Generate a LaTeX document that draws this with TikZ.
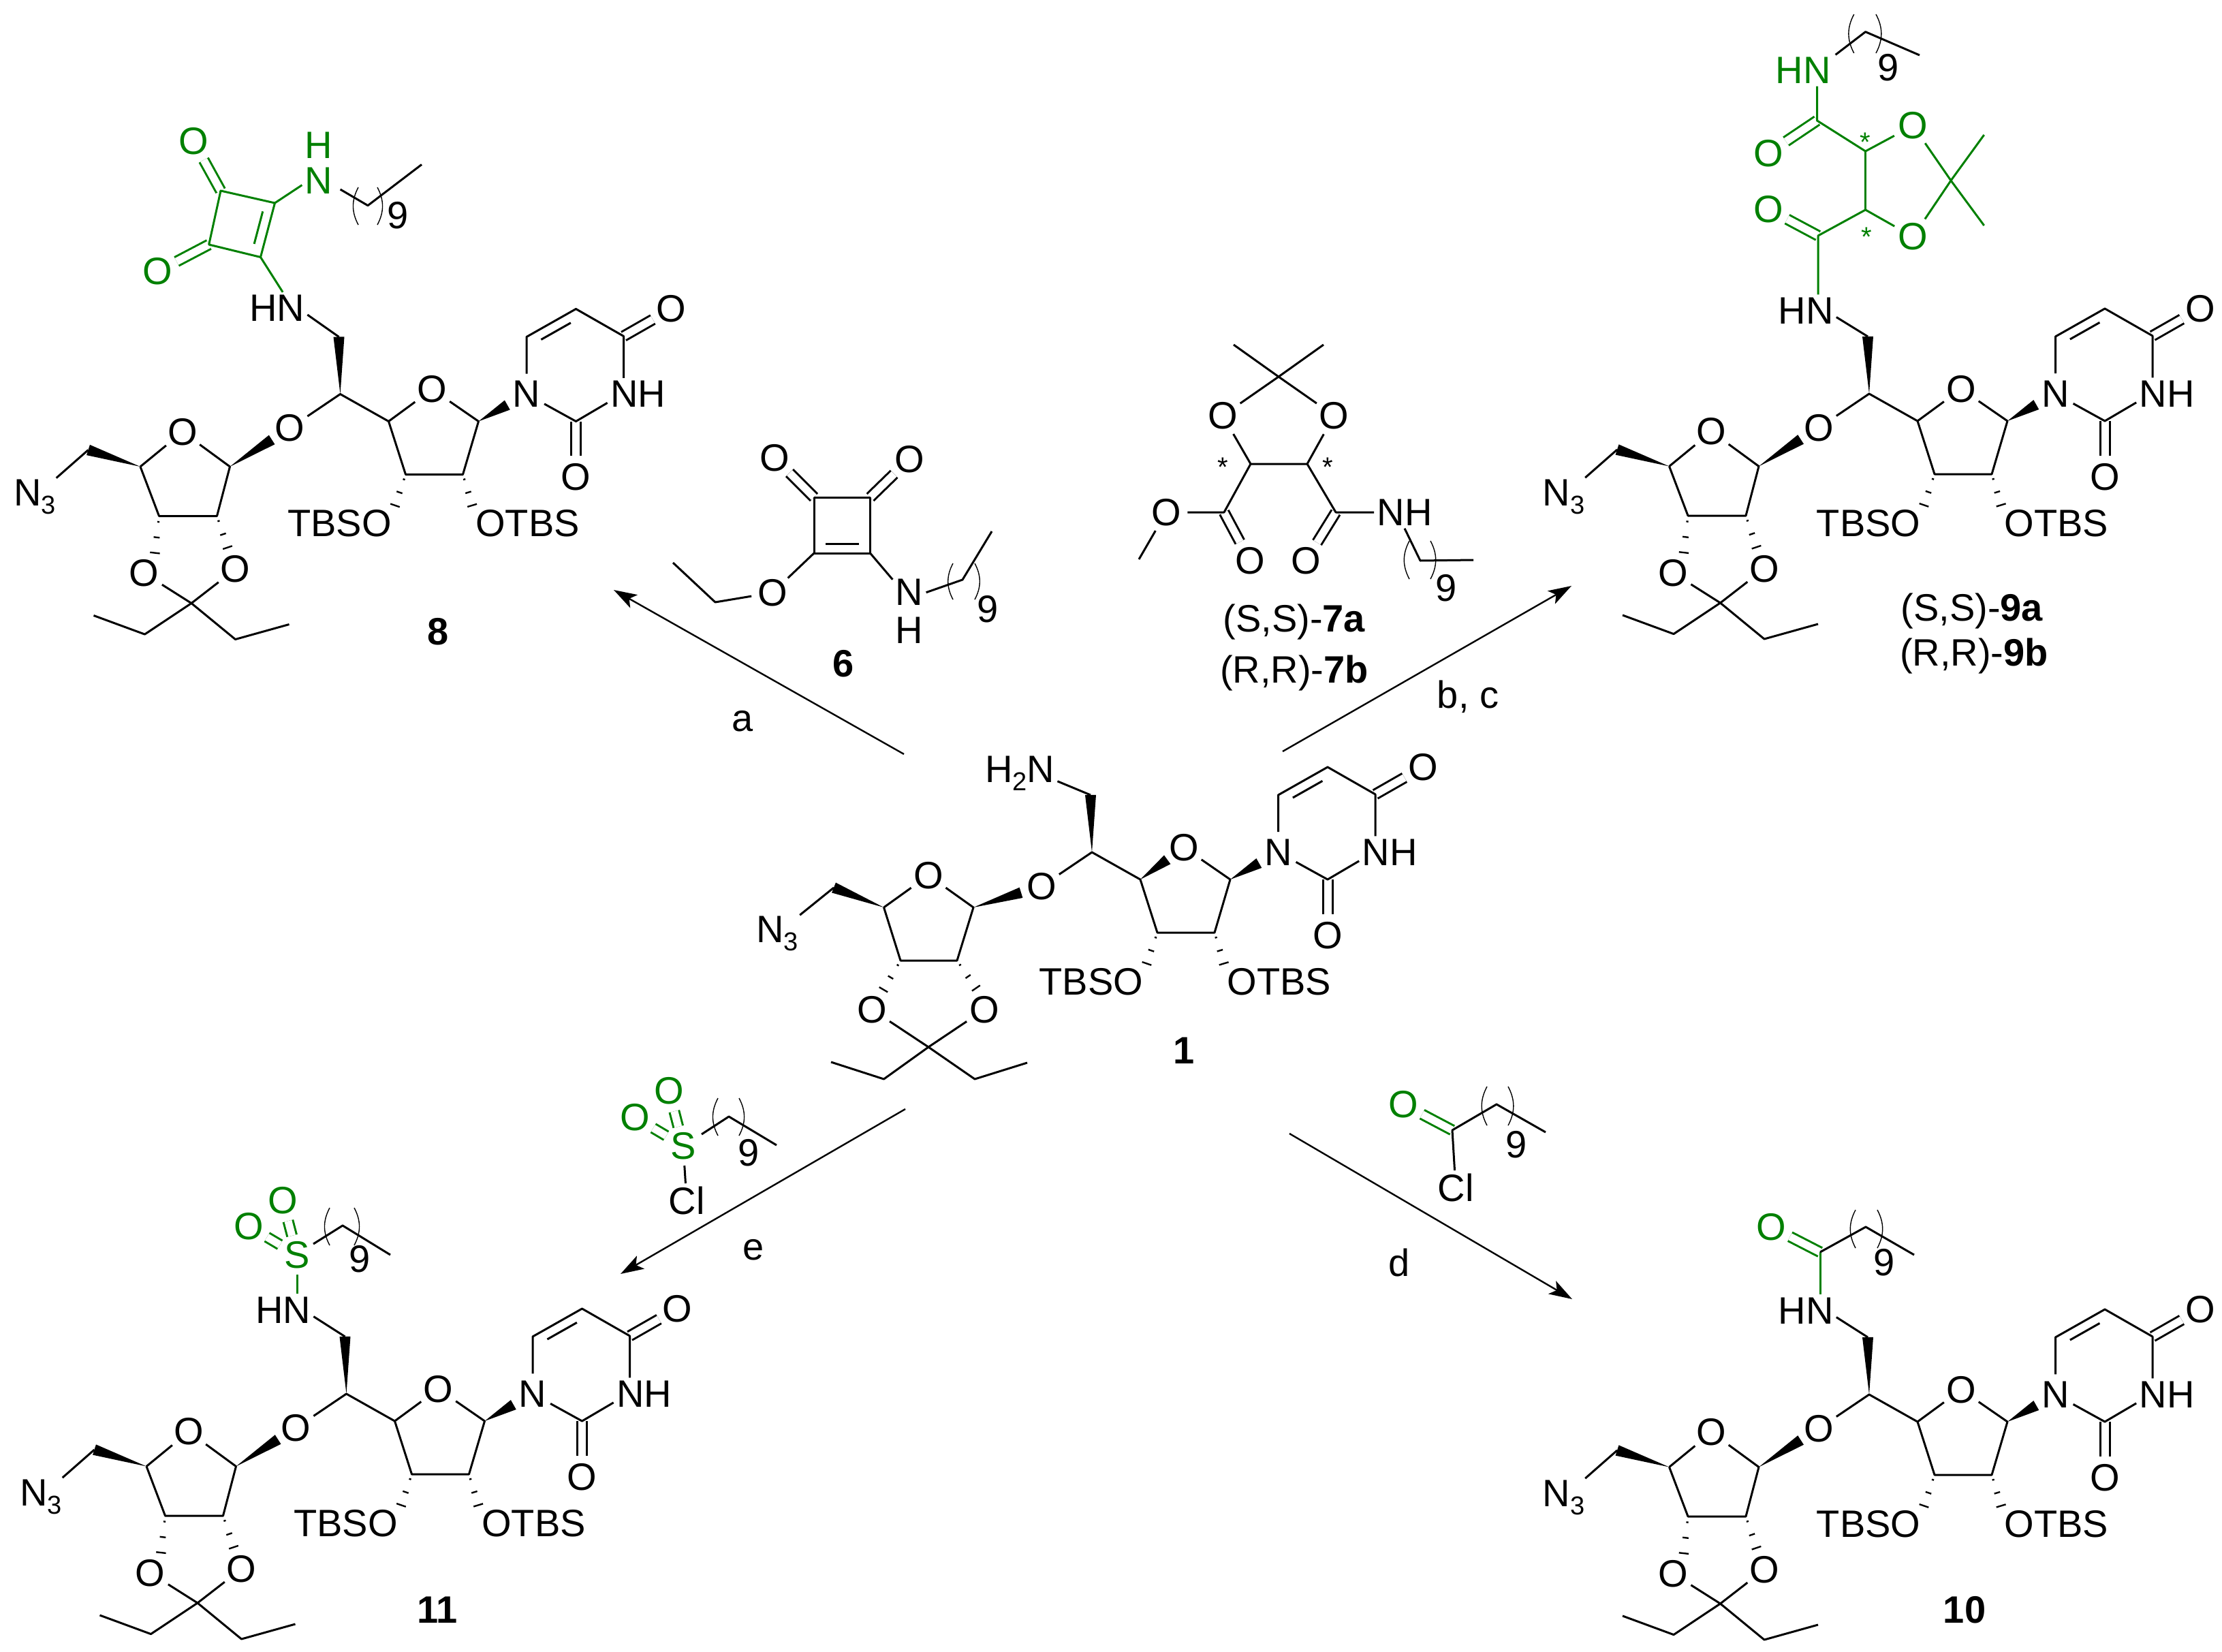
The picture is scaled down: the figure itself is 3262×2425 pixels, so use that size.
\documentclass[tikz,border=0pt]{standalone}
\usepackage{fontspec}
\setmainfont{Liberation Sans}
\usetikzlibrary{calc,arrows.meta}
\definecolor{chemgreen}{RGB}{0,128,0}

\newcommand{\lowidx}[1]{\raisebox{-6pt}{\fontsize{19}{20}\selectfont #1}}
\newcommand{\wedgebond}[3][1]{\fill (#2) -- ($(#2)!#1!(#3)!4pt!90:(#2)$) -- ($(#2)!#1!(#3)!4pt!-90:(#2)$) -- cycle;}
\newcommand{\hashbond}[2]{\foreach \hpos/\hwid in {.15/.8pt,.55/2.2pt,.95/3.6pt}{\draw[hash] ($(#1)!\hpos!(#2)!\hwid!90:(#1)$) -- ($(#1)!\hpos!(#2)!\hwid!-90:(#1)$);}}
\newcommand{\innerbond}[2]{\draw[bond] ($(#1)!.2!(#2)!7pt!-90:(#2)$) -- ($(#1)!.8!(#2)!7pt!90:(#1)$);}
\newcommand{\parenpair}[4]{\draw[paren] (#1,#3) to[bend right=28] (#1,#4); \draw[paren] (#2,#3) to[bend left=28] (#2,#4);}

% uridine half, (am) is placed by the caller
\newcommand{\rightunit}{
\coordinate (ch) at (1603,1251);
\coordinate (cha) at (1601,1167);
\node[atom] (ob) at (1529,1301) {O};
\coordinate (c4r) at (1674,1291);
\node[atom] (or) at (1738,1244) {O};
\coordinate (c1r) at (1806,1291);
\coordinate (c2r) at (1783,1369);
\coordinate (c3r) at (1699,1369);
\node[atom] (n1) at (1876.5,1251) {N};
\coordinate (c6) at (1876.5,1167);
\coordinate (c5) at (1949,1126);
\coordinate (c4u) at (2019,1166);
\node[atom] (o4) at (2089,1126) {O};
\node[atoms] (n3) at (2040,1251) {NH};
\coordinate (c2u) at (1949,1291);
\node[atom] (o2) at (1949,1373) {O};
\node[atoms] (tbso) at (1602,1441) {TBSO};
\node[atoms] (otbs) at (1878,1441) {OTBS};
\draw[dbl] (c4u) -- (o4);
\draw[dbl] (c2u) -- (o2);
\draw[bond] (am.-12) -- (cha);
\wedgebond{ch}{cha}
\draw[bond] (ob) -- (ch) -- (c4r) -- (c3r) -- (c2r) -- (c1r) -- (or);
\wedgebond[.6]{c1r}{n1}
\draw[bond] (n1) -- (c6) -- (c5) -- (c4u) -- (c4u |- n3.north);
\draw[bond] (n3.196) -- (c2u) -- (n1);
\innerbond{c6}{c5}
\hashbond{c3r}{tbso.north east}
\hashbond{c2r}{otbs.north west}
}

% sugar of 1
\newcommand{\leftwide}{
\coordinate (c4s) at (1297.5,1332);
\node[atom] (os) at (1363,1285) {O};
\coordinate (c1s) at (1429,1332);
\coordinate (c2s) at (1405,1410);
\coordinate (c3s) at (1322,1410);
\coordinate (chn) at (1224,1303);
\node[atoms,inner sep=1pt] (az) at (1141,1370) {N\lowidx{3}};
\node[atom] (oka) at (1280,1482) {O};
\node[atom] (okb) at (1445,1482) {O};
\coordinate (cq) at (1363,1537);
\coordinate (e1a) at (1297.5,1584);
\coordinate (e1b) at (1220,1559);
\coordinate (e2a) at (1431,1584);
\coordinate (e2b) at (1508,1560);
}
% sugar of 8, 9, 10, 11
\newcommand{\leftnarrow}{
\coordinate (c4s) at (1309.5,1357.5);
\node[atom] (os) at (1371.5,1306.6) {O};
\coordinate (c1s) at (1441,1357.5);
\coordinate (c2s) at (1422,1430);
\coordinate (c3s) at (1337,1430);
\coordinate (chn) at (1233,1333);
\node[atoms,inner sep=1pt] (az) at (1154.5,1402) {N\lowidx{3}};
\node[atom] (oka) at (1315,1514) {O};
\node[atom] (okb) at (1449,1508) {O};
\coordinate (cq) at (1384.5,1558);
\coordinate (e1a) at (1316,1603.6);
\coordinate (e1b) at (1241,1576);
\coordinate (e2a) at (1449,1611);
\coordinate (e2b) at (1528,1589);
}
\newcommand{\leftunit}{
\wedgebond{c4s}{chn}
\draw[bond] (chn) -- (az);
\draw[bond] (c4s) -- (os) -- (c1s) -- (c2s) -- (c3s) -- (c4s);
\wedgebond[.7]{c1s}{ob}
\hashbond{c3s}{oka.60}
\hashbond{c2s}{okb.110}
\draw[bond] (oka) -- (cq) -- (okb);
\draw[bond] (e1b) -- (e1a) -- (cq) -- (e2a) -- (e2b);
}

\begin{document}
\begin{tikzpicture}[x=.5pt,y=-.5pt,line join=round,>={Stealth[length=17pt,width=11pt,inset=4pt]}]
\tikzstyle{chemfont}=[font=\fontsize{28}{28}\selectfont]
\tikzstyle{atom}=[chemfont,circle,inner sep=.5pt]
\tikzstyle{atoms}=[chemfont,rectangle,inner sep=2pt,align=center]
\tikzstyle{bond}=[draw,line width=1.5pt]
\tikzstyle{dbl}=[draw,line width=1.5pt,double,double distance=5.5pt]
\tikzstyle{hash}=[draw,line width=1.2pt]
\tikzstyle{paren}=[draw,line width=.7pt]
\tikzstyle{rxn}=[draw,->,line width=1.2pt]
\tikzstyle{starmark}=[font=\fontsize{20}{20}\selectfont,inner sep=0pt,anchor=north]
\useasboundingbox (0,0) rectangle (3262,2425);

% 1
\begin{scope}[name prefix=m1-]
\node[atoms] (am) at (1497,1135) {H\lowidx{2}N};
\rightunit
\leftwide
\leftunit
\wedgebond[.62]{c4r}{or}
\end{scope}
\node[atoms] (lab1) at (1738,1542) {\textbf{1}};

% 8
\begin{scope}[shift={(-1103.5,-672.5)},name prefix=m8-]
\node[atoms] (am) at (1510,1125) {HN};
\rightunit
\leftnarrow
\leftunit
\draw[bond] (c4r) -- (or);
\end{scope}
\node[atoms] (lab8) at (643.5,927) {\textbf{8}};
\coordinate (q1) at (324,280);
\coordinate (q2) at (403.5,298);
\coordinate (q3) at (382.5,377.5);
\coordinate (q4) at (306.7,359);
\node[atom,chemgreen] (qo1) at (284,207.5) {O};
\node[atom,chemgreen] (qo2) at (231.6,398.4) {O};
\node[atoms,chemgreen] (qn) at (468,239) {H\\[-2pt]N};
\coordinate (k8a) at (499.6,278);
\coordinate (k8b) at (540,301.7);
\coordinate (k8c) at (619,241.5);
\draw[dbl,chemgreen] (q1) -- (qo1);
\draw[dbl,chemgreen] (q4) -- (qo2);
\begin{scope}[chemgreen]
\draw[bond] (q1) -- (q2) -- (q3) -- (q4) -- cycle;
\innerbond{q2}{q3}
\draw[bond] (q2) -- (qn.233);
\draw[bond] (q3) -- (m8-am.70);
\end{scope}
\draw[bond] (k8a) -- (k8b) -- (k8c);
\parenpair{526}{554}{275}{330}
\node[atoms] (n8) at (584,316) {9};

% 9
\begin{scope}[shift={(1141,-673)},name prefix=m9-]
\node[atoms] (am) at (1510,1129) {HN};
\rightunit
\leftnarrow
\leftunit
\draw[bond] (c4r) -- (or);
\end{scope}
\node[atoms] (lab9a) at (2895,897) {(S,S)-\textbf{9a}};
\node[atoms] (lab9b) at (2898,963) {(R,R)-\textbf{9b}};
\node[atoms,chemgreen] (tn) at (2647,103) {HN};
\coordinate (t1) at (2667.5,177);
\node[atom,chemgreen] (to1) at (2596,225) {O};
\coordinate (t2) at (2738.6,222);
\node[atom,chemgreen] (to2) at (2808.4,184.5) {O};
\coordinate (t3) at (2864,265);
\coordinate (t4) at (2912.7,198);
\coordinate (t5) at (2912.7,331);
\coordinate (t6) at (2738.6,308);
\node[atom,chemgreen] (to3) at (2808.4,347.5) {O};
\coordinate (t7) at (2669,346);
\node[atom,chemgreen] (to4) at (2596,307) {O};
\draw[dbl,chemgreen] (t1) -- (to1);
\draw[dbl,chemgreen] (t7) -- (to4);
\begin{scope}[chemgreen]
\draw[bond] (t1 |- tn.south) -- (t1) -- (t2) -- (to2) -- (t3) -- (to3) -- (t6) -- (t7) -- (t7 |- m9-am.north);
\draw[bond] (t2) -- (t6);
\draw[bond] (t4) -- (t3) -- (t5);
\node[starmark] (ts1) at (2738.6,195) {*};
\node[starmark] (ts2) at (2740.6,334) {*};
\end{scope}
\coordinate (k9a) at (2694.6,80.4);
\coordinate (k9b) at (2738.6,46.7);
\coordinate (k9c) at (2818,81);
\draw[bond] (k9a) -- (k9b) -- (k9c);
\parenpair{2721.7}{2754}{21}{78}
\node[atoms] (n9) at (2772.5,99.5) {9};

% 10
\begin{scope}[shift={(1141,796)},name prefix=m10-]
\node[atoms] (am) at (1510,1128) {HN};
\rightunit
\leftnarrow
\leftunit
\draw[bond] (c4r) -- (or);
\end{scope}
\node[atoms] (lab10) at (2884,2363) {\textbf{10}};
\node[atom,chemgreen] (ao) at (2600,1801) {O};
\coordinate (a1) at (2672,1838);
\coordinate (a2) at (2739,1801);
\coordinate (a3) at (2810,1842);
\draw[dbl,chemgreen] (a1) -- (ao);
\draw[bond,chemgreen] (a1) -- (a1 |- m10-am.north);
\draw[bond] (a1) -- (a2) -- (a3);
\parenpair{2724}{2756}{1776}{1832}
\node[atoms] (n10) at (2766,1853) {9};

% 11
\begin{scope}[shift={(-1094.5,795)},name prefix=m11-]
\node[atoms] (am) at (1510,1128) {HN};
\rightunit
\leftnarrow
\leftunit
\draw[bond] (c4r) -- (or);
\end{scope}
\node[atoms] (lab11) at (642,2363) {\textbf{11}};
\node[atom,chemgreen] (ss) at (436,1842) {S};
\node[atom,chemgreen] (so1) at (415,1762) {O};
\node[atom,chemgreen] (so2) at (365,1800) {O};
\coordinate (b1) at (460,1826);
\coordinate (b2) at (503,1799);
\coordinate (b3) at (573,1842);
\draw[dbl,chemgreen] (ss) -- (so1);
\draw[dbl,chemgreen] (ss) -- (so2);
\draw[bond,chemgreen] (ss) -- (ss |- m11-am.north);
\draw[bond] (b1) -- (b2) -- (b3);
\parenpair{484}{520}{1773}{1828}
\node[atoms] (n11) at (528,1848) {9};

% 6
\coordinate (r1) at (1195,730);
\coordinate (r2) at (1277.5,730);
\coordinate (r3) at (1277.5,812);
\coordinate (r4) at (1195,812);
\node[atom] (ro1) at (1137,672) {O};
\node[atom] (ro2) at (1335,674) {O};
\node[atom] (ro3) at (1134,870) {O};
\coordinate (re1) at (1050,884);
\coordinate (re2) at (988,826);
\node[atoms] (rn) at (1335,897) {N\\H};
\coordinate (rk1) at (1413,851);
\coordinate (rk2) at (1456,780);
\draw[dbl] (r1) -- (ro1);
\draw[dbl] (r2) -- (ro2);
\draw[bond] (r1) -- (r2) -- (r3) -- (r4) -- cycle;
\innerbond{r3}{r4}
\draw[bond] (r4) -- (ro3) -- (re1) -- (re2);
\draw[bond] (r3) -- (rn.118);
\draw[bond] (rn.48) -- (rk1) -- (rk2);
\parenpair{1399}{1431}{827}{880}
\node[atoms] (n6) at (1450,894) {9};
\node[atoms] (lab6) at (1238,974) {\textbf{6}};

% 7
\coordinate (d0) at (1877,553);
\coordinate (d1) at (1811,506);
\coordinate (d2) at (1943,506);
\node[atom] (do1) at (1795,610) {O};
\node[atom] (do2) at (1958.5,610) {O};
\coordinate (d3) at (1836,681);
\coordinate (d4) at (1919,681);
\coordinate (d5) at (1797,752);
\coordinate (d6) at (1961,752);
\node[atom] (do3) at (1835,823) {O};
\node[atom] (do4) at (1917,823) {O};
\node[atom] (do5) at (1712,752) {O};
\coordinate (d7) at (1672,821);
\node[atoms] (dn) at (2062,752) {NH};
\coordinate (dk1) at (2085,823);
\coordinate (dk2) at (2163,822);
\draw[dbl] (d5) -- (do3);
\draw[dbl] (d6) -- (do4);
\draw[bond] (d1) -- (d0) -- (d2);
\draw[bond] (do1) -- (d0) -- (do2);
\draw[bond] (do1) -- (d3) -- (d4) -- (do2);
\draw[bond] (d3) -- (d5) -- (do5) -- (d7);
\draw[bond] (d4) -- (d6) -- (dn);
\draw[bond] (dn.south) -- (dk1) -- (dk2);
\parenpair{2069}{2100}{794}{850}
\node[atoms] (n7) at (2123,863) {9};
\node[starmark] (ds1) at (1795,672) {*};
\node[starmark] (ds2) at (1949,672) {*};
\node[atoms] (lab7a) at (1900,913) {(S,S)-\textbf{7a}};
\node[atoms] (lab7b) at (1900,988) {(R,R)-\textbf{7b}};

% sulfonyl chloride
\node[atom,chemgreen] (us) at (1003,1682) {S};
\node[atom,chemgreen] (uo1) at (982,1601) {O};
\node[atom,chemgreen] (uo2) at (932,1640) {O};
\node[atoms] (ucl) at (1008,1762) {Cl};
\coordinate (u1) at (1030,1665);
\coordinate (u2) at (1070,1639);
\coordinate (u3) at (1140,1681);
\draw[dbl,chemgreen] (us) -- (uo1);
\draw[dbl,chemgreen] (us) -- (uo2);
\draw[bond] (us) -- (ucl);
\draw[bond] (u1) -- (u2) -- (u3);
\parenpair{1054}{1085}{1612}{1667}
\node[atoms] (nu) at (1099.5,1692) {9};

% acid chloride
\node[atom,chemgreen] (vo) at (2060,1621) {O};
\coordinate (v1) at (2132,1659);
\coordinate (v2) at (2197,1621);
\coordinate (v3) at (2269,1662);
\node[atoms] (vcl) at (2137,1743) {Cl};
\draw[dbl,chemgreen] (v1) -- (vo);
\draw[bond] (vcl) -- (v1) -- (v2) -- (v3);
\parenpair{2183}{2214}{1595}{1652}
\node[atoms] (nv) at (2226,1680) {9};

% arrows
\coordinate (arra0) at (1327,1107);
\coordinate (arra1) at (901,866);
\coordinate (arrb0) at (1883,1103);
\coordinate (arrb1) at (2307,860);
\coordinate (arrd0) at (1893,1664);
\coordinate (arrd1) at (2308,1907);
\coordinate (arre0) at (1329,1628);
\coordinate (arre1) at (911,1870);
\draw[rxn] (arra0) -- (arra1);
\draw[rxn] (arrb0) -- (arrb1);
\draw[rxn] (arrd0) -- (arrd1);
\draw[rxn] (arre0) -- (arre1);
\node[atoms] (laba) at (1090,1059) {a};
\node[atoms] (labb) at (2155,1023) {b, c};
\node[atoms] (labd) at (2054,1853) {d};
\node[atoms] (labe) at (1106,1835) {e};
\end{tikzpicture}
\end{document}
